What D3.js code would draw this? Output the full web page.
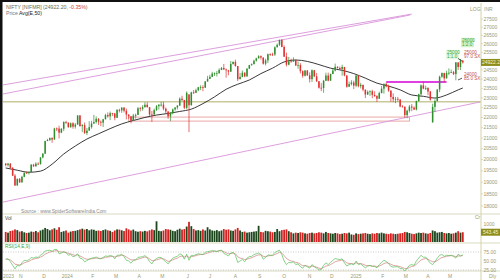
<!DOCTYPE html>
<html lang="en">
<head>
<meta charset="UTF-8">
<title>NIFTY Daily</title>
<script src="https://d3js.org/d3.v7.min.js"></script>
<style>
  body { margin: 0; background: #fff; }
  svg { display: block; font-family: "Liberation Sans", Arial, sans-serif; }
  .ax { font-size: 5px; fill: #9a9a74; }
  .tiny { font-size: 4.6px; }
</style>
</head>
<body>
<svg id="chart" width="500" height="280"></svg>
<script>
// 2-day candles, Oct 2023 -> May 2025 : [open, high, low, close]
const candles = [
  [19811,19843,19690,19751],[19751,19850,19680,19811],[19811,19840,19590,19624],[19624,19660,19260,19281],
  [19281,19350,18837,18857],[18857,19160,18850,19140],[19140,19180,18970,18989],[18989,19276,18980,19230],
  [19230,19423,19210,19406],[19406,19464,19370,19395],[19395,19463,19330,19443],[19443,19800,19440,19765],
  [19765,19806,19670,19694],[19694,19875,19680,19811],[19811,19875,19760,19794],[19794,20106,19770,20096],
  [20096,20291,20050,20267],[20267,20864,20260,20855],[20855,20961,20850,20901],[20901,21026,20860,20997],
  [20997,21037,20770,20926],[20926,21492,20920,21457],[21457,21505,21330,21453],[21453,21593,20976,21255],
  [21255,21477,21230,21441],[21441,21801,21330,21779],[21779,21834,21680,21742],[21742,21755,21500,21518],
  [21518,21750,21500,21711],[21711,21763,21450,21545],[21545,21726,21450,21648],[21648,22115,21640,22097],
  [22097,22124,21550,21572],[21572,21671,21285,21622],[21622,21750,21192,21239],[21239,21482,21137,21353],
  [21353,21813,21350,21522],[21522,21832,21448,21697],[21697,22127,21690,21772],[21772,22053,21700,21931],
  [21931,21970,21630,21783],[21783,21850,21570,21743],[21743,21930,21530,21911],[21911,22186,21900,22122],
  [22122,22250,21990,22055],[22055,22297,21870,22213],[22213,22230,22070,22198],[22198,22230,21860,21983],
  [21983,22420,21980,22379],[22379,22440,22250,22356],[22356,22525,22230,22494],[22494,22526,22250,22336],
  [22336,22446,21905,22147],[22147,22150,21930,22056],[22056,22060,21710,21839],[21839,22180,21830,22097],
  [22097,22193,21947,22124],[22124,22530,22120,22462],[22462,22530,22300,22435],[22435,22620,22340,22514],
  [22514,22768,22510,22643],[22643,22775,22500,22519],[22519,22520,22080,22148],[22148,22326,21777,22147],
  [22147,22450,22140,22368],[22368,22625,22330,22570],[22570,22675,22400,22643],[22643,22795,22550,22648],
  [22648,22794,22360,22442],[22442,22500,22180,22302],[22302,22310,21932,22055],[22055,22270,21821,22218],
  [22218,22450,22150,22404],[22404,22520,22340,22502],[22502,22630,22400,22597],[22597,23026,22590,22957],
  [22957,23110,22820,22888],[22888,22890,22420,22488],[22488,23338,22420,23264],[23179,23180,21281,22620],
  [22620,23320,22600,23290],[23290,23411,23200,23265],[23265,23481,23250,23398],[23398,23579,23350,23558],
  [23558,23664,23410,23567],[23567,23667,23350,23538],[23538,23890,23520,23868],[23868,24174,23860,24010],
  [24010,24236,24000,24123],[24123,24401,24110,24302],[24302,24363,24170,24320],[24320,24443,24141,24324],
  [24324,24592,24290,24502],[24502,24661,24490,24613],[24613,24837,24500,24530],[24530,24582,24074,24479],
  [24479,24504,24210,24406],[24406,24999,24400,24836],[24836,24984,24798,24951],[24951,25078,24686,24718],
  [24718,24718,23893,23992],[23992,24338,23990,24117],[24117,24472,24100,24347],[24347,24373,24100,24143],
  [24143,24600,24140,24572],[24572,24787,24550,24770],[24770,24867,24737,24823],[24823,25074,24820,25017],
  [25017,25192,24964,25151],[25151,25333,25150,25278],[25278,25321,25083,25198],[25198,25210,24801,24852],
  [24852,25130,24753,25041],[25041,25433,24885,25389],[25389,25445,25292,25383],[25383,25482,25285,25377],
  [25377,25849,25286,25791],[25791,26011,25790,25940],[25940,26250,25871,26216],[26216,26277,25794,25811],
  [25811,25907,25230,25250],[25250,25485,24694,24796],[24796,25234,24756,24981],[24981,25134,24920,24964],
  [24964,25212,24960,25057],[25057,25093,24728,24749],[24749,24978,24567,24781],[24781,24882,24307,24435],
  [24435,24480,24073,24181],[24181,24498,24140,24466],[24466,24499,24172,24205],[24205,24368,23816,23995],
  [23995,24537,23842,24484],[24484,24503,24108,24148],[24148,24336,23839,23883],[23883,23883,23484,23532],
  [23532,23780,23350,23518],[23518,23956,23263,23907],[23907,24351,23900,24194],[24194,24354,23874,23914],
  [23914,24301,23900,24276],[24276,24574,24270,24467],[24467,24857,24420,24677],[24677,24705,24580,24610],
  [24610,24691,24503,24549],[24549,24792,24180,24668],[24668,24670,24150,24199],[24199,24199,23537,23588],
  [23588,23869,23580,23727],[23727,23938,23653,23813],[23813,23915,23460,23645],[23645,24226,23562,24188],
  [24188,24196,23551,23616],[23616,23795,23496,23688],[23688,23689,23344,23432],[23432,23432,22987,23176],
  [23176,23391,23150,23311],[23311,23391,23100,23345],[23345,23426,22981,23155],[23155,23347,23050,23092],
  [23092,23137,22786,22957],[22957,23322,22950,23250],[23250,23632,23240,23482],[23482,23762,23222,23739],
  [23739,23807,23556,23603],[23603,23694,23316,23381],[23381,23390,22798,23045],[23045,23235,22775,22929],
  [22929,23050,22725,22945],[22945,23050,22814,22913],[22913,22920,22518,22553],[22553,22625,22508,22545],
  [22545,22550,21974,22119],[22119,22394,21964,22337],[22337,22633,22245,22552],[22552,22676,22314,22497],
  [22497,22558,22377,22397],[22397,22857,22354,22834],[22834,23216,22808,23190],[23190,23708,23120,23658],
  [23658,23869,23451,23486],[23486,23646,23412,23519],[23519,23565,23136,23332],[23332,23365,22857,22904],
  [21758,22698,21743,22535],[22535,22923,22270,22829],[22829,23452,22820,23437],[23437,24189,23298,24125],
  [24125,24359,24073,24329],[24329,24347,23847,24039],[24039,24457,24030,24335],[24335,24589,24216,24346],
  [24346,24526,24331,24380],[24380,24447,24220,24273],[24273,24944,23935,24924],[24924,24924,24500,24666],
  [24666,25116,24493,25019],[25019,25062,24857,24922]
];

// EMA(50) read at every 5th candle
const emaIdx = [0,5,10,15,20,25,30,35,40,45,50,55,60,65,70,75,80,85,90,95,100,105,110,115,120,125,130,135,140,145,150,155,160,165,170,175,180,185,190,195,197];
const emaVal = [19620,19520,19430,19480,19790,20250,20620,20950,21200,21450,21680,21850,22000,22120,22200,22300,22420,22700,23050,23450,23720,23950,24300,24600,24950,25060,24980,24800,24600,24480,24300,24050,23780,23620,23420,23150,23080,22990,23150,23420,23520];

// volume (Cr) per candle
const volume = [
  560,520,610,640,700,660,580,600,540,500, 520,580,560,610,540,640,690,780,720,650,
  700,760,680,820,560,600,640,520,580,610, 620,660,700,740,690,720,650,700,680,620,
  640,610,660,700,650,620,560,640,700,690, 650,610,760,700,640,690,600,570,600,580,
  620,590,650,700,660,1150,620,600,640,720, 700,680,620,600,680,740,690,720,860,1120,
  880,720,640,660,620,700,640,820,700,640, 620,660,600,640,720,680,700,640,620,700,
  780,640,560,580,520,540,560,580,600,900, 560,540,620,600,580,540,560,720,600,660,
  680,700,600,540,480,520,500,540,520,480, 460,500,520,480,500,540,520,480,560,500,
  480,460,500,480,440,460,500,480,520,420, 400,480,440,460,480,500,460,440,480,460,
  500,480,520,480,460,440,480,460,440,460, 480,500,560,540,500,460,440,480,520,500,
  520,480,460,500,640,600,520,540,560,500, 480,500,460,480,520,600,520,543
];

// RSI(14) and its EMA(9) signal per candle
const rsi = [
  55,56,48,38,28,38,36,45,52,51, 53,60,58,61,60,66,70,78,79,80, 77,82,82,70,72,76,73,66,68,62,
  64,70,58,56,48,51,55,58,59,61, 57,56,60,64,63,65,64,56,66,66, 69,62,52,50,44,52,53,60,61,62,
  65,59,48,42,52,57,60,60,53,48, 42,51,58,61,63,70,67,55,69,52, 66,65,68,70,69,68,74,76,77,79,
  78,76,79,80,71,68,64,72,74,66, 46,50,54,48,58,62,63,68,70,72, 68,55,60,67,66,66,74,77,80,68,
  50,40,46,45,48,40,42,34,30,38, 34,30,40,34,30,25,26,38,45,40, 46,52,57,55,54,56,45,36,40,42,
  39,50,40,42,36,31,36,38,35,35, 31,40,46,52,49,43,35,33,34,34, 29,29,22,30,38,40,38,50,58,66,
  60,61,52,44,40,48,58,66,68,63, 66,65,66,63,58,69,64,67
];
const rsiSignal = [
  55,55,53,48,41,40,39,41,45,47, 49,53,55,57,58,61,64,69,72,75, 76,78,79,76,75,75,74,71,70,67,
  66,67,64,61,57,55,55,56,57,58, 58,57,58,60,61,62,63,61,63,64, 66,65,61,57,53,53,53,55,57,59,
  61,60,56,51,51,53,55,57,56,53, 49,50,53,56,58,62,64,61,64,60, 62,63,65,67,68,68,70,72,74,76,
  77,77,78,79,76,73,70,71,72,70, 62,58,57,54,55,57,59,62,65,67, 67,63,62,64,65,65,68,71,74,72,
  65,57,53,50,49,46,45,41,37,37, 36,34,36,35,33,30,29,32,36,37, 40,44,48,50,51,53,50,45,43,43,
  42,45,43,43,41,38,37,37,36,36, 34,36,39,43,45,44,41,38,37,36, 34,32,29,29,32,35,36,41,47,53,
  55,57,55,51,48,48,51,56,60,61, 63,64,65,64,62,64,64,65
];

// 25000 sits under the last-price box, so it is not listed
const priceTicks = [18000,18500,19000,19500,20000,20500,21000,21500,22000,22500,23000,23500,24000,24500,25500,26000,26500,27000,27500];
const monthLabels = ["2023","N","D","2024","F","M","A","M","J","J","A","S","O","N","D","2025","F","M","A","M"];
const monthIdx = [-1,6.5,16.5,26.5,37.5,47.6,57.5,67.5,78.5,88,99,109.5,120,131,140.5,151,162.5,172.5,182,191.5];

// drawn trend lines: [[idx, price], [idx, price]]
const upperLine1 = [[-1.2, 23680], [175, 27810]];
const upperLine2 = [[-1.2, 23200], [174.3, 27750]];
const lowerLine = [[-1.2, 18160], [204.4, 22785]];
const supportLevel = 22800;
const zoneTop = 22020, zoneBottom = 21820, zoneFrom = 53, zoneTo = 174;
const resistance = 23840, resFrom = 164, resTo = 190;
const lastClose = 24922.2, lastVolume = 543.45;

const svg = d3.select("#chart");
const L = 3, R = 481, T = 3;
const mainBottom = 214, volBottom = 243, rsiBottom = 271;

const x = d3.scaleLinear().domain([0, candles.length - 1]).range([5.7, 462.8]);
const y = d3.scaleLog().domain([18000, 27500]).range([206, 19]);
const yVol = d3.scaleLinear().domain([0, 1000]).range([242, 224]);
const yRsi = d3.scaleLinear().domain([25, 75]).range([270, 252]);

svg.append("rect").attr("width", 500).attr("height", 280).attr("fill", "#fff");

svg.append("clipPath").attr("id", "mainClip")
  .append("rect").attr("x", L).attr("y", T).attr("width", R - L).attr("height", mainBottom - T);
const main = svg.append("g").attr("clip-path", "url(#mainClip)");

// level lines
main.append("line")
  .attr("x1", L).attr("x2", R).attr("y1", y(supportLevel)).attr("y2", y(supportLevel))
  .attr("stroke", "#c9c99a").attr("stroke-width", 1.6);

main.append("rect")
  .attr("x", x(zoneFrom)).attr("y", y(zoneTop))
  .attr("width", x(zoneTo) - x(zoneFrom)).attr("height", y(zoneBottom) - y(zoneTop))
  .attr("fill", "none").attr("stroke", "#e59090").attr("stroke-width", 0.8);

const seg = d3.line().x(d => x(d[0])).y(d => y(d[1]));
[upperLine1, upperLine2, lowerLine].forEach(l => {
  main.append("path").attr("d", seg(l))
    .attr("fill", "none").attr("stroke", "#d994d9").attr("stroke-width", 0.9);
});

main.append("line")
  .attr("x1", x(resFrom)).attr("x2", x(resTo)).attr("y1", y(resistance)).attr("y2", y(resistance))
  .attr("stroke", "#e040e0").attr("stroke-width", 1.8);

// EMA 50
main.append("path")
  .datum(emaIdx.map((d, i) => [d, emaVal[i]]))
  .attr("d", d3.line().x(d => x(d[0])).y(d => y(d[1])).curve(d3.curveMonotoneX))
  .attr("fill", "none").attr("stroke", "#222").attr("stroke-width", 0.9);

// candles
const up = "#2f8f2f", down = "#e03030";
const cg = main.selectAll(".c").data(candles).enter().append("g");
cg.append("line")
  .attr("x1", (d, i) => x(i)).attr("x2", (d, i) => x(i))
  .attr("y1", d => y(d[1])).attr("y2", d => y(d[2]))
  .attr("stroke", d => d[3] >= d[0] ? up : down).attr("stroke-width", 0.7);
cg.append("rect")
  .attr("x", (d, i) => x(i) - 0.75).attr("width", 1.5)
  .attr("y", d => y(Math.max(d[0], d[3])))
  .attr("height", d => Math.max(0.8, Math.abs(y(d[0]) - y(d[3]))))
  .attr("fill", d => d[3] >= d[0] ? up : down);

// panel separators and right axis
[mainBottom, volBottom, rsiBottom].forEach(v => {
  svg.append("line").attr("x1", L).attr("x2", 500).attr("y1", v).attr("y2", v)
    .attr("stroke", "#cfcfb0").attr("stroke-width", 0.8);
});
svg.append("line").attr("x1", R).attr("x2", R).attr("y1", T).attr("y2", 280)
  .attr("stroke", "#d3d3a8").attr("stroke-width", 1);

priceTicks.forEach(p => {
  svg.append("line").attr("x1", R).attr("x2", R + 2).attr("y1", y(p)).attr("y2", y(p)).attr("stroke", "#c8c8a0").attr("stroke-width", 0.6);
  svg.append("text").attr("class", "ax").attr("x", R + 2.5).attr("y", y(p) + 1.8).text(p);
});
svg.append("text").attr("class", "ax").attr("x", 470).attr("y", 11).attr("fill", "#777").text("LOG");
svg.append("text").attr("class", "ax").attr("x", 484).attr("y", 11).text("INR");

// last price box
svg.append("rect").attr("x", R).attr("y", y(lastClose) - 3.5).attr("width", 19).attr("height", 7).attr("fill", "#8d8d1c");
svg.append("text").attr("x", R + 1).attr("y", y(lastClose) + 1.8).attr("font-size", 5).attr("fill", "#f5f5d0").text(lastClose.toFixed(1));

// trade annotations
function tag(px, level, l1, l2, col, bg) {
  const yy = y(level);
  if (bg) svg.append("rect").attr("x", px - 1).attr("y", yy - 6).attr("width", 13).attr("height", 9.5).attr("fill", bg);
  svg.append("text").attr("class", "tiny").attr("x", px).attr("y", yy - 2).attr("fill", col).text(l1);
  svg.append("text").attr("class", "tiny").attr("x", px).attr("y", yy + 2.3).attr("fill", col).text(l2);
}
tag(462, 26000, "26000", "1:2.0", "#3aa83a", "#d2f2cc");
tag(447, 25300, "25000", "1:1.0", "#3aa83a", "#e4f7e0");
tag(464, 25300, "25000", "97.0 SX", "#c05050", null);
tag(464, 24050, "24000", "85.0 SX", "#c05050", null);
svg.append("path").attr("d", `M458,${y(25150)} L462,${y(25000)}`).attr("stroke", "#111").attr("stroke-width", 0.7);
svg.append("path").attr("d", `M458,${y(23950)} L462,${y(24050)}`).attr("stroke", "#111").attr("stroke-width", 0.7);

// titles
const title = svg.append("text").attr("x", 6).attr("y", 8.5).attr("font-size", 5.2);
title.append("tspan").attr("fill", "#6b6b4b").text("NIFTY [NIFMR] (24922.20, ");
title.append("tspan").attr("fill", "#d04040").text("-0.35%");
title.append("tspan").attr("fill", "#6b6b4b").text(")");
const sub = svg.append("text").attr("x", 6).attr("y", 15).attr("font-size", 5.2);
sub.append("tspan").attr("fill", "#777").text("Price  ");
sub.append("tspan").attr("fill", "#222").text("Avg(E,50)");

svg.append("text").attr("x", 21).attr("y", 213).attr("font-size", 4.8).attr("fill", "#888")
  .text("Source : www.SpiderSoftwareIndia.Com");

// volume panel
svg.append("text").attr("x", 5).attr("y", 220).attr("font-size", 4.8).attr("fill", "#444").text("Vol");
svg.selectAll(".vb").data(volume).enter().append("rect")
  .attr("x", (d, i) => x(i) - 0.9).attr("width", 1.8)
  .attr("y", d => yVol(d)).attr("height", d => yVol(0) - yVol(d))
  .attr("fill", (d, i) => candles[i][3] >= candles[i][0] ? "#1c461c" : "#d42222");
svg.append("text").attr("class", "ax").attr("x", 475).attr("y", 219).text("Cr");
svg.append("text").attr("class", "ax").attr("x", R + 2.5).attr("y", yVol(1000) + 1.8).text("1000");
svg.append("rect").attr("x", R).attr("y", yVol(lastVolume) - 3.5).attr("width", 19).attr("height", 7).attr("fill", "#8d8d1c");
svg.append("text").attr("x", R + 2).attr("y", yVol(lastVolume) + 1.8).attr("font-size", 5).attr("fill", "#f5f5d0").text(lastVolume.toFixed(2));

// RSI panel
svg.append("text").attr("x", 5).attr("y", 248).attr("font-size", 4.8).attr("fill", "#3aa83a").text("RSI(14,E,9)");
[75, 25].forEach(v => {
  svg.append("line").attr("x1", L).attr("x2", R).attr("y1", yRsi(v)).attr("y2", yRsi(v))
    .attr("stroke", "#aaa").attr("stroke-width", 0.6).attr("stroke-dasharray", "1,1.5");
});
[75, 50, 25].forEach(v => {
  svg.append("text").attr("class", "ax").attr("x", R + 2.5).attr("y", yRsi(v) + 1.8).text(v.toFixed(2));
});
const rl = d3.line().x((d, i) => x(i)).y(d => yRsi(d));
svg.append("path").attr("d", rl(rsiSignal)).attr("fill", "none").attr("stroke", "#d08080").attr("stroke-width", 0.7);
svg.append("path").attr("d", rl(rsi)).attr("fill", "none").attr("stroke", "#55c055").attr("stroke-width", 0.7);

// date axis
monthLabels.forEach((m, i) => {
  svg.append("text").attr("class", "ax").attr("x", i === 0 ? 3 : x(monthIdx[i]))
    .attr("y", 277.5).attr("text-anchor", i === 0 ? "start" : "middle").attr("fill", "#8a8a70").text(m);
});
svg.append("text").attr("class", "ax").attr("x", 489).attr("y", 277.5).attr("fill", "#555").text("Dly");

// dark frame at left/top edge
svg.append("rect").attr("x", 0).attr("y", 0).attr("width", 2.5).attr("height", 280).attr("fill", "#111");
svg.append("rect").attr("x", 0).attr("y", 0).attr("width", 500).attr("height", 2).attr("fill", "#111");
</script>
</body>
</html>
